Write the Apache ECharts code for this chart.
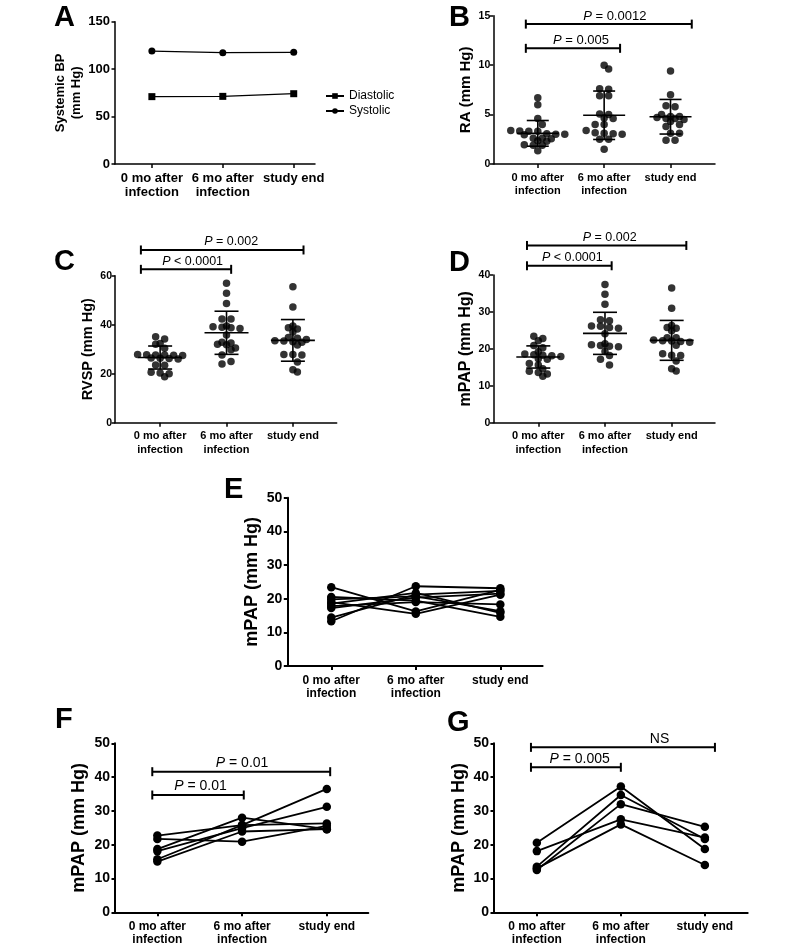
<!DOCTYPE html>
<html><head><meta charset="utf-8">
<script src="https://cdn.jsdelivr.net/npm/echarts@6/dist/echarts.min.js"></script>
<style>html,body{margin:0;padding:0;background:#fff}#c{width:800px;height:952px}</style>
</head><body><div id="c"></div>
<script>
// ---------------- DATA ----------------
const categories = ['0 mo after\ninfection', '6 mo after\ninfection', 'study end'];

// Panel A
const bpSeriesNames = ['Diastolic', 'Systolic'];
const bpDiastolic = [71.0, 71.3, 74.1];
const bpSystolic = [119.0, 117.3, 117.7];

// Panel B (RA)
const ra0 = [6.7, 6.0, 4.6, 4.0, 3.4, 3.35, 3.3, 3.3, 3.05, 3.0, 3.0, 2.95, 2.6, 2.6, 2.55, 2.35, 2.3, 1.95, 1.9, 1.9, 1.35];
const ra1 = [10.0, 9.6, 7.6, 7.55, 6.9, 6.9, 5.05, 5.0, 4.65, 4.6, 4.0, 4.0, 3.4, 3.15, 3.1, 3.05, 3.0, 2.5, 2.5, 1.5];
const ra2 = [9.4, 7.0, 5.9, 5.8, 5.0, 4.8, 4.8, 4.7, 4.6, 4.6, 4.5, 4.0, 4.3, 3.8, 3.1, 3.1, 2.4, 2.4];
const raMean = [3.1, 4.93, 4.78];
const raSD = [1.3, 2.45, 1.75];
// [from, to, height, label centre]
const raBrackets = [[-0.18, 2.32, 14.15, 1.16], [-0.18, 1.24, 11.7, 0.65]];
const raLabels = ['P = 0.0012', 'P = 0.005'];

// Panel C (RVSP)
const rvsp0 = [35.1, 34.2, 32.3, 32.0, 30.4, 27.8, 27.7, 27.6, 27.6, 27.5, 27.4, 26.4, 26.3, 26.2, 26.0, 23.6, 23.4, 20.6, 20.3, 20.0, 18.8];
const rvsp1 = [56.9, 52.8, 48.7, 42.3, 42.3, 39.5, 39.0, 38.8, 39.2, 38.5, 35.8, 32.5, 32.0, 31.8, 32.8, 29.8, 30.5, 27.6, 25.0, 24.0];
const rvsp2 = [55.5, 47.2, 39.5, 38.8, 38.2, 37.0, 34.8, 34.0, 33.5, 33.3, 33.0, 32.8, 34.5, 31.7, 27.8, 27.6, 27.8, 24.8, 20.7, 21.6];
const rvspMean = [26.6, 36.7, 33.6];
const rvspSD = [4.7, 8.8, 8.5];
const rvspBrackets = [[-0.29, 2.16, 70.5, 1.07], [-0.29, 1.07, 62.6, 0.49]];
const rvspLabels = ['P = 0.002', 'P < 0.0001'];

// Panel D (mPAP)
const mpap0 = [23.4, 22.8, 22.2, 20.9, 20.3, 19.2, 18.6, 18.4, 18.3, 18.1, 17.9, 17.3, 17.2, 16.0, 15.6, 14.6, 13.9, 13.6, 13.2, 12.6];
const mpap1 = [37.4, 34.8, 32.1, 27.9, 27.6, 26.1, 25.8, 25.6, 26.2, 24.1, 21.1, 20.7, 21.4, 20.9, 18.2, 20.6, 19.3, 17.2, 15.6];
const mpap2 = [36.5, 31.0, 26.3, 25.8, 24.9, 25.6, 23.0, 22.4, 22.2, 21.8, 22.0, 22.1, 23.0, 21.0, 18.3, 18.2, 18.7, 16.7, 14.0, 14.6];
const mpapMean = [17.8, 24.2, 22.3];
const mpapSD = [3.0, 5.7, 5.4];
const mpapBrackets = [[-0.17, 2.22, 48.0, 1.07], [-0.17, 1.10, 42.5, 0.51]];
const mpapLabels = ['P = 0.002', 'P < 0.0001'];

// Panel E (paired, no change)
const eSubjects = [
  [23.4, 16.2, 22.6],
  [13.3, 23.7, 23.1],
  [14.4, 21.2, 22.3],
  [20.5, 19.4, 14.6],
  [19.8, 20.7, 16.3],
  [19.0, 15.5, 21.2],
  [17.8, 19.0, 18.3],
  [17.2, 20.3, 21.5],
  [18.5, 21.7, 15.8]
];

// Panel F
const fSubjects = [
  [22.7, 25.8, 36.5],
  [21.7, 20.9, 25.6],
  [18.7, 28.0, 24.6],
  [18.1, 24.9, 31.2],
  [15.7, 25.8, 26.3],
  [15.0, 23.9, 24.6]
];
const fBrackets = [[-0.06, 2.04, 41.6, 1.0], [-0.06, 1.02, 34.7, 0.51]];
const fLabels = ['P = 0.01', 'P = 0.01'];

// Panel G
const gSubjects = [
  [20.6, 37.2, 18.7],
  [13.5, 34.7, 21.7],
  [12.5, 32.0, 25.3],
  [18.1, 27.5, 22.1],
  [13.0, 26.0, 14.0]
];
const gBrackets = [[-0.07, 2.12, 48.8, 1.46], [-0.07, 1.0, 42.9, 0.51]];
const gLabels = ['NS', 'P = 0.005'];

// ---------------- LAYOUT ----------------
const FONT = '"Liberation Sans", Arial, Helvetica, sans-serif';
const P = [
  {left:115, top:21.7, width:200, height:142.3, xMin:-0.52, xMax:2.3, yMax:150, yInt:50, lw:1.5,
   name:'Systemic BP\n(mm Hg)', nameFs:13, nameGap:30, nameLh:16, tickFs:13, catFs:13, catLh:14.5, catMargin:7, tickMargin:5},
  {left:493.3, top:15.7, width:221.7, height:148.3, xMin:-0.67, xMax:2.67, yMax:15, yInt:5, lw:1.5,
   name:'RA (mm Hg)', nameFs:15, nameGap:16, tickFs:10.5, catFs:11, catLh:13.3, catMargin:7, tickMargin:3},
  {left:115, top:275.7, width:221.7, height:147, xMin:-0.68, xMax:2.66, yMax:60, yInt:20, lw:1.5,
   name:'RVSP (mm Hg)', nameFs:14.5, nameGap:15, tickFs:10.5, catFs:11, catLh:13.3, catMargin:7, tickMargin:3},
  {left:493.3, top:275, width:221.7, height:147.7, xMin:-0.675, xMax:2.65, yMax:40, yInt:10, lw:1.5,
   name:'mPAP (mm Hg)', nameFs:16, nameGap:14, tickFs:10.5, catFs:11, catLh:13.3, catMargin:7, tickMargin:3},
  {left:287.3, top:497.7, width:255.3, height:168.3, xMin:-0.52, xMax:2.5, yMax:50, yInt:10, lw:2,
   name:'mPAP (mm Hg)', nameFs:18, nameGap:24, tickFs:14, catFs:12, catLh:13, catMargin:8, tickMargin:5},
  {left:115, top:743.3, width:253.3, height:169, xMin:-0.5, xMax:2.49, yMax:50, yInt:10, lw:2,
   name:'mPAP (mm Hg)', nameFs:18, nameGap:25, tickFs:14, catFs:12, catLh:13, catMargin:8, tickMargin:5},
  {left:494, top:743.3, width:253.7, height:169, xMin:-0.51, xMax:2.51, yMax:50, yInt:10, lw:2,
   name:'mPAP (mm Hg)', nameFs:18, nameGap:24, tickFs:14, catFs:12, catLh:13, catMargin:8, tickMargin:5}
];
const letters = [['A',54,3],['B',449,3],['C',54,247],['D',449,248],['E',224,475],['F',55,705],['G',447,708]];

// ---------------- HELPERS ----------------
// row-binned scatter-dot layout (each row centred; adjacent rows staggered to limit overlap)
function swarm(vals, xi, p, s, binH){
  const pxY = p.height / p.yMax, pxX = p.width / (p.xMax - p.xMin);
  const bins = new Map();
  vals.forEach(v => {
    const b = Math.round(v*pxY/binH);
    if (!bins.has(b)) bins.set(b, []);
    bins.get(b).push(v);
  });
  const keys = [...bins.keys()].sort((a,b)=>b-a);
  const out = [];
  let prev = null, prevKey = null;
  for (const key of keys){
    const vs = bins.get(key).sort((a,b)=>b-a), n = vs.length;
    const base = vs.map((v,k)=>(k-(n-1)/2)*s);
    let best = 0, bestCost = Infinity;
    for (const shift of [0, s/2, -s/2]){
      let cost = shift ? 0.3 : 0;
      if (prev && prevKey - key <= 1){
        for (const a of base) for (const b of prev){
          const d = Math.abs(a + shift - b);
          if (d < s*0.9) cost += s*0.9 - d;
        }
      }
      if (cost < bestCost){ bestCost = cost; best = shift; }
    }
    const pos = base.map(a => a + best);
    vs.forEach((v,k)=> out.push([xi + pos[k]/pxX, v]));
    prev = pos; prevKey = key;
  }
  return out;
}

function errSeries(idx, means, sds, halfMean, halfCap){
  return {
    type:'custom', xAxisIndex:idx, yAxisIndex:idx, silent:true, clip:false, z:5,
    data: means.map((m,i)=>[i, m, sds[i]]),
    renderItem(params, api){
      const x = api.value(0), m = api.value(1), s = api.value(2);
      const c = api.coord([x,m]), t = api.coord([x,m+s]), b = api.coord([x,m-s]);
      const st = {stroke:'#000', lineWidth:1.6};
      return {type:'group', children:[
        {type:'line', shape:{x1:c[0]-halfMean, y1:c[1], x2:c[0]+halfMean, y2:c[1]}, style:st},
        {type:'line', shape:{x1:c[0]-halfCap, y1:t[1], x2:c[0]+halfCap, y2:t[1]}, style:st},
        {type:'line', shape:{x1:c[0]-halfCap, y1:b[1], x2:c[0]+halfCap, y2:b[1]}, style:st},
        {type:'line', shape:{x1:c[0], y1:t[1], x2:c[0], y2:b[1]}, style:st}
      ]};
    }
  };
}

function bracketSeries(idx, rows, labels, fs){
  return {
    type:'custom', xAxisIndex:idx, yAxisIndex:idx, silent:true, clip:false, z:6,
    data: rows.map((r,i)=>[r[0], r[1], r[2], r[3], i]),
    renderItem(params, api){
      const x1 = api.value(0), x2 = api.value(1), y = api.value(2), lx = api.value(3), li = api.value(4);
      const a = api.coord([x1,y]), b = api.coord([x2,y]), l = api.coord([lx,y]);
      const st = {stroke:'#000', lineWidth:2};
      const lab = labels[li];
      const txt = lab.startsWith('P ') ? '{i|P}' + lab.slice(1) : lab;
      return {type:'group', children:[
        {type:'line', shape:{x1:a[0], y1:a[1], x2:b[0], y2:b[1]}, style:st},
        {type:'line', shape:{x1:a[0], y1:a[1]-4.5, x2:a[0], y2:a[1]+4.5}, style:st},
        {type:'line', shape:{x1:b[0], y1:b[1]-4.5, x2:b[0], y2:b[1]+4.5}, style:st},
        {type:'text', x:l[0], y:a[1]-1.5, style:{
          text:txt, align:'center', verticalAlign:'bottom', fill:'#000',
          fontSize:fs, fontFamily:FONT,
          rich:{i:{fontStyle:'italic', fontSize:fs, fontFamily:FONT, fill:'#000'}}
        }}
      ]};
    }
  };
}

function dotSeries(idx, groups){
  const p = P[idx];
  let data = [];
  groups.forEach((g,i)=>{ data = data.concat(swarm(g, i, p, 9, 4.5)); });
  return {type:'scatter', xAxisIndex:idx, yAxisIndex:idx, data, symbol:'circle', symbolSize:7.5,
    itemStyle:{color:'#000'}, silent:true, z:3};
}

function pairedSeries(idx, subjects){
  return subjects.map(s => ({
    type:'line', xAxisIndex:idx, yAxisIndex:idx, data: s.map((v,k)=>[k,v]),
    symbol:'circle', symbolSize:8.5, showSymbol:true,
    lineStyle:{color:'#000', width:1.8}, itemStyle:{color:'#000'}, silent:true
  }));
}

// ---------------- OPTION ----------------
const grids = P.map(p => ({left:p.left, top:p.top, width:p.width, height:p.height, containLabel:false}));
const xAxes = P.map((p,i) => ({
  type:'value', gridIndex:i, min:p.xMin, max:p.xMax,
  axisLine:{show:true, onZero:false, lineStyle:{color:'#000', width:p.lw}},
  axisTick:{show:true, customValues:[0,1,2], length:4, lineStyle:{color:'#000', width:p.lw}},
  axisLabel:{show:true, customValues:[0,1,2], formatter:v=>categories[Math.round(v)],
    fontSize:p.catFs, fontWeight:'bold', color:'#000', fontFamily:FONT, margin:p.catMargin, lineHeight:p.catLh},
  splitLine:{show:false}
}));
const yAxes = P.map((p,i) => ({
  type:'value', gridIndex:i, min:0, max:p.yMax, interval:p.yInt,
  name:p.name, nameLocation:'middle', nameGap:p.nameGap,
  nameTextStyle:{fontSize:p.nameFs, fontWeight:'bold', color:'#000', fontFamily:FONT, lineHeight:p.nameLh || p.nameFs*1.2},
  axisLine:{show:true, onZero:false, lineStyle:{color:'#000', width:p.lw}},
  axisTick:{show:true, length:3.5, lineStyle:{color:'#000', width:p.lw}},
  axisLabel:{fontSize:p.tickFs, fontWeight:'bold', color:'#000', fontFamily:FONT, margin:p.tickMargin},
  splitLine:{show:false}
}));

const series = [
  {type:'line', name:bpSeriesNames[0], xAxisIndex:0, yAxisIndex:0, data:bpDiastolic.map((v,k)=>[k,v]),
   symbol:'rect', symbolSize:7, lineStyle:{color:'#000', width:1.2}, itemStyle:{color:'#000'}},
  {type:'line', name:bpSeriesNames[1], xAxisIndex:0, yAxisIndex:0, data:bpSystolic.map((v,k)=>[k,v]),
   symbol:'circle', symbolSize:7, lineStyle:{color:'#000', width:1.2}, itemStyle:{color:'#000'}},
  dotSeries(1, [ra0, ra1, ra2]),
  errSeries(1, raMean, raSD, 21, 11),
  bracketSeries(1, raBrackets, raLabels, 13),
  dotSeries(2, [rvsp0, rvsp1, rvsp2]),
  errSeries(2, rvspMean, rvspSD, 22, 12),
  bracketSeries(2, rvspBrackets, rvspLabels, 12.5),
  dotSeries(3, [mpap0, mpap1, mpap2]),
  errSeries(3, mpapMean, mpapSD, 22, 12),
  bracketSeries(3, mpapBrackets, mpapLabels, 12.5),
  ...pairedSeries(4, eSubjects),
  ...pairedSeries(5, fSubjects),
  bracketSeries(5, fBrackets, fLabels, 14),
  ...pairedSeries(6, gSubjects),
  bracketSeries(6, gBrackets, gLabels, 14)
];

const option = {
  animation:false,
  backgroundColor:'#fff',
  textStyle:{fontFamily:FONT},
  title: letters.map(l => ({text:l[0], left:l[1], top:l[2], padding:0,
    textStyle:{fontSize:29, fontWeight:'bold', color:'#000', fontFamily:FONT}})),
  legend:{
    data:bpSeriesNames, orient:'vertical', left:325, top:90, padding:0, itemWidth:18, itemHeight:7, itemGap:3,
    textStyle:{fontSize:12, color:'#000', fontFamily:FONT}, selectedMode:false
  },
  grid:grids, xAxis:xAxes, yAxis:yAxes, series
};

const chart = echarts.init(document.getElementById('c'), null, {renderer:'canvas'});
chart.setOption(option);
</script>
</body></html>
